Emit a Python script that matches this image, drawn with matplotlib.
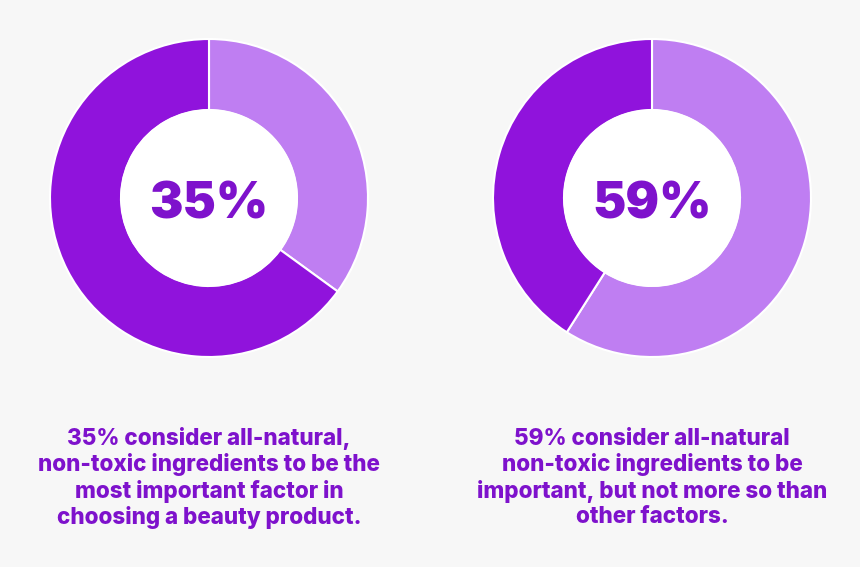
import matplotlib.pyplot as plt

# data
shares = [35, 59]
captions = [
    "35% consider all-natural,\nnon-toxic ingredients to be the\nmost important factor in\nchoosing a beauty product.",
    "59% consider all-natural\nnon-toxic ingredients to be\nimportant, but not more so than\nother factors.",
]

bg = '#F7F7F7'
light = '#BF7EF2'
dark = '#9013DC'
text_col = '#7E12CC'

W, H = 860, 567
fig = plt.figure(figsize=(W / 100, H / 100), dpi=100, facecolor=bg)
ax = fig.add_axes([0, 0, 1, 1])

centers_x = [209, 652]
cy = H - 198
r_out = 159
r_in = 88

for cx, s, cap in zip(centers_x, shares, captions):
    ax.pie([s, 100 - s], colors=[light, dark], startangle=90, counterclock=False,
           center=(cx, cy), radius=r_out, frame=True,
           wedgeprops=dict(width=r_out - r_in, edgecolor='white', linewidth=1.5))
    circ = plt.Circle((cx, cy), r_in, color='white', zorder=3)
    ax.add_patch(circ)
    ax.text(cx, cy - 7, f'{s}%', ha='center', va='center', fontsize=36,
            fontweight='black', family='Inter', color=text_col, zorder=4)
    ax.text(cx, H - 478, cap, ha='center', va='center', fontsize=16.2,
            fontweight='heavy', family='Inter', color=text_col, linespacing=1.18)

ax.set_xlim(0, W)
ax.set_ylim(0, H)
ax.set_aspect('equal')
ax.axis('off')

fig.savefig('out.png', dpi=100, facecolor=bg)
